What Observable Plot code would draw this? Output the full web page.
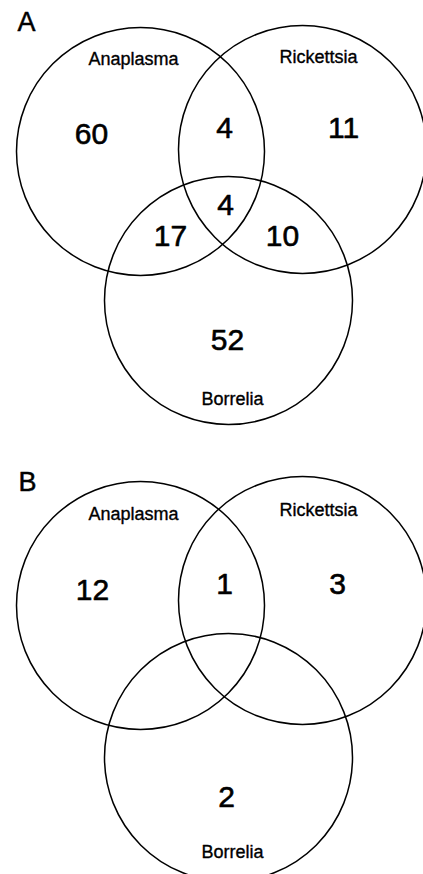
<!DOCTYPE html>
<html>
<head>
<meta charset="utf-8">
<script src="https://cdn.jsdelivr.net/npm/d3@7"></script>
<script src="https://cdn.jsdelivr.net/npm/@observablehq/plot@0.6"></script>
<style>
  html, body { margin: 0; padding: 0; background: #fff; }
  #chart svg { display: block; }
</style>
</head>
<body>
<div id="chart"></div>
<script>
// ---- data ----
const panels = ["A", "B"];
const sets = ["Anaplasma", "Rickettsia", "Borrelia"];
const regions = ["Anaplasma only", "Anaplasma+Rickettsia", "Rickettsia only",
                 "Anaplasma+Borrelia", "All three", "Rickettsia+Borrelia", "Borrelia only"];
const countsA = [60, 4, 11, 17, 4, 10, 52];
const countsB = [12, 1, 3, null, null, null, 2];

// ---- layout (diagram units, 1 unit = 1px) ----
const panelLetterPos = {A: [26, 22], B: [27, 482]};
const circleCenters = {
  A: [[140, 151], [302, 149], [228, 300]],
  B: [[140, 605], [302, 600], [228, 757]]
};
const setLabelPos = {
  A: [[133, 59], [318, 57], [232, 399]],
  B: [[133, 514], [318, 510], [232, 852]]
};
const regionPos = {
  A: [[91, 134], [224, 128], [343, 128], [170, 236], [225, 205], [282, 236], [227, 340]],
  B: [[92, 590], [224, 584], [337, 584], [170, 692], [225, 661], [282, 692], [226, 797]]
};
const radius = 124;

const circles = panels.flatMap(p => sets.map((s, i) => ({panel: p, set: s, x: circleCenters[p][i][0], y: circleCenters[p][i][1]})));
const setLabels = panels.flatMap(p => sets.map((s, i) => ({panel: p, set: s, x: setLabelPos[p][i][0], y: setLabelPos[p][i][1]})));
const counts = {A: countsA, B: countsB};
const regionLabels = panels.flatMap(p => regions.map((r, i) => ({panel: p, region: r, value: counts[p][i], x: regionPos[p][i][0], y: regionPos[p][i][1]})))
  .filter(d => d.value != null);
const letters = panels.map(p => ({panel: p, x: panelLetterPos[p][0], y: panelLetterPos[p][1]}));

const font = "'Liberation Sans', Arial, Helvetica, sans-serif";

const chart = Plot.plot({
  width: 423,
  height: 874,
  margin: 0,
  style: {fontFamily: font, background: "#fff", color: "#000"},
  x: {domain: [0, 423], range: [0, 423], axis: null},
  y: {domain: [0, 874], range: [0, 874], axis: null},
  marks: [
    Plot.dot(circles, {x: "x", y: "y", r: radius, stroke: "#000", strokeWidth: 1.5, fill: "none"}),
    Plot.text(setLabels, {x: "x", y: "y", text: "set", fontSize: 18, fill: "#000", stroke: "#000", strokeWidth: 0.35, textAnchor: "middle", lineAnchor: "middle"}),
    Plot.text(regionLabels, {x: "x", y: "y", text: d => String(d.value), fontSize: 30, fill: "#000", stroke: "#000", strokeWidth: 0.6, textAnchor: "middle", lineAnchor: "middle"}),
    Plot.text(letters, {x: "x", y: "y", text: "panel", fontSize: 27, fill: "#000", stroke: "#000", strokeWidth: 0.5, textAnchor: "middle", lineAnchor: "middle"})
  ]
});
document.getElementById("chart").appendChild(chart);
</script>
</body>
</html>
